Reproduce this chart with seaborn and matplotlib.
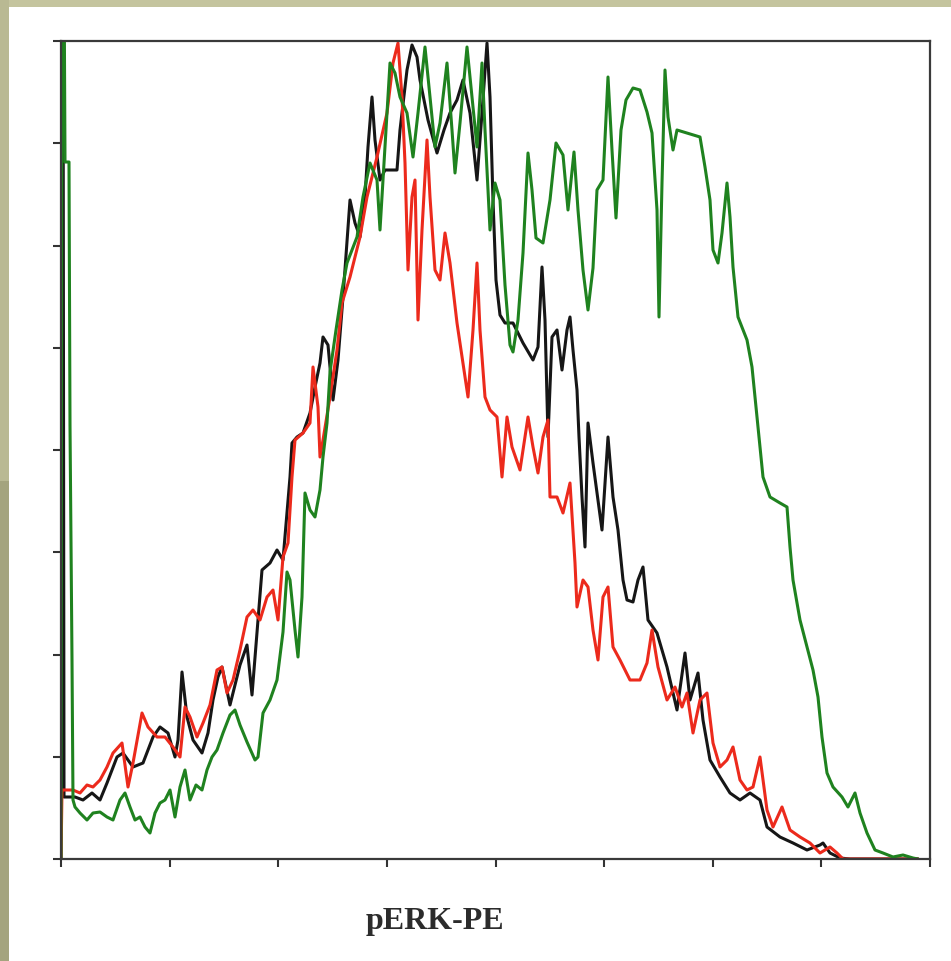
import numpy as np
import pandas as pd
import matplotlib
matplotlib.use("Agg")
import matplotlib.pyplot as plt
from matplotlib.patches import Rectangle
import seaborn as sns

# pERK-PE fluorescence histograms (channel vs. event count)
ch_green = [0, 1, 3, 4, 8, 9, 11, 12, 14, 19, 26, 32, 39, 46, 52, 59, 64, 69, 74, 79,
            84, 89, 94, 99, 104, 109, 114, 119, 124, 129, 135, 141, 146, 151, 156, 162,
            169, 174, 179, 186, 194, 197, 202, 209, 216, 222, 226, 229, 234, 237, 241,
            244, 249, 254, 259, 262, 266, 269, 275, 281, 286, 296, 302, 309, 316, 319,
            324, 329, 334, 339, 346, 352, 357, 364, 369, 374, 379, 386, 391, 394, 399,
            406, 411, 416, 421, 424, 429, 434, 439, 444, 449, 452, 457, 462, 467, 471,
            475, 482, 489, 495, 502, 507, 513, 517, 522, 527, 532, 536, 542, 547, 551,
            555, 560, 565, 572, 579, 586, 591, 596, 598, 601, 604, 607, 612, 616, 626,
            639, 644, 649, 652, 657, 661, 666, 669, 672, 677, 686, 691, 696, 702, 709,
            719, 726, 729, 732, 739, 746, 752, 757, 761, 766, 772, 781, 787, 794, 799,
            806, 814, 822, 832, 842, 852, 857]
n_green = [0, 900, 900, 697, 697, 434, 199, 59, 52, 46, 39, 46, 47, 42, 39, 59, 66, 52, 39, 42,
           32, 26, 46, 56, 59, 69, 42, 72, 89, 59, 74, 69, 89, 102, 109, 126,
           144, 149, 134, 117, 99, 102, 146, 159, 179, 227, 287, 279, 229, 202, 262,
           366, 349, 342, 369, 402, 436, 487, 529, 569, 596, 622, 662, 696, 679, 629,
           712, 796, 786, 762, 746, 702, 746, 812, 762, 712, 736, 796, 729, 686, 736,
           812, 762, 712, 796, 729, 629, 676, 659, 574, 514, 507, 539, 606, 706, 669,
           621, 616, 659, 716, 704, 649, 707, 649, 589, 549, 591, 669, 679, 782, 709,
           641, 729, 759, 771, 769, 747, 726, 649, 542, 676, 789, 742, 709, 729, 726,
           722, 692, 659, 609, 596, 626, 676, 642, 592, 542, 519, 492, 442, 382, 362,
           356, 352, 312, 279, 239, 212, 189, 162, 122, 86, 72, 62, 52, 66, 46,
           26, 9, 6, 2, 4, 1, 0]

ch_black = [0, 1, 2, 3, 14, 22, 31, 39, 46, 56, 62, 72, 82, 92, 99, 107, 114, 117, 121,
            126, 132, 141, 147, 152, 157, 161, 169, 179, 186, 191, 196, 201, 209, 216,
            222, 226, 229, 231, 236, 242, 249, 254, 259, 262, 267, 272, 277, 282, 289,
            294, 299, 304, 307, 311, 314, 319, 324, 336, 339, 346, 351, 356, 359, 367,
            376, 383, 389, 396, 402, 409, 416, 421, 426, 429, 432, 435, 439, 444, 452,
            462, 472, 477, 481, 484, 487, 491, 496, 501, 506, 509, 512, 516, 518, 521,
            524, 527, 532, 541, 547, 552, 557, 562, 566, 572, 577, 582, 587, 596, 606,
            616, 624, 629, 637, 642, 649, 659, 669, 679, 689, 699, 706, 719, 732, 746,
            759, 762, 769, 779, 789, 857]
n_black = [0, 900, 900, 62, 62, 59, 66, 59, 76, 102, 106, 92, 96, 122, 132, 126, 102, 119, 187,
           142, 119, 106, 126, 159, 182, 192, 154, 194, 214, 164, 227, 289, 296, 309,
           299, 346, 382, 416, 422, 426, 446, 472, 496, 522, 514, 459, 499, 562, 659,
           636, 622, 662, 712, 762, 719, 679, 689, 689, 729, 789, 814, 802, 779, 739,
           706, 729, 746, 759, 779, 746, 679, 746, 816, 762, 659, 579, 544, 536, 536,
           516, 499, 512, 592, 539, 422, 522, 529, 489, 529, 542, 509, 469, 422, 362,
           312, 436, 396, 329, 422, 362, 329, 279, 259, 257, 279, 292, 239, 226, 192,
           149, 206, 159, 186, 139, 99, 82, 66, 59, 66, 59, 32, 22, 16, 9,
           14, 16, 6, 1, 0, 0]

ch_red = [0, 1, 12, 19, 26, 32, 39, 46, 52, 61, 67, 72, 81, 87, 96, 104, 112, 119, 124,
          129, 136, 142, 149, 156, 161, 166, 172, 179, 186, 192, 199, 206, 212, 217, 222,
          227, 231, 234, 242, 249, 252, 257, 259, 262, 269, 276, 281, 289, 299, 306,
          316, 326, 332, 337, 341, 344, 347, 351, 354, 357, 361, 366, 369, 374, 379,
          384, 389, 396, 402, 407, 412, 416, 419, 424, 429, 436, 441, 446, 451, 459,
          467, 472, 477, 482, 487, 489, 496, 502, 509, 514, 516, 522, 527, 532, 537,
          542, 547, 552, 559, 569, 579, 586, 591, 597, 606, 614, 621, 626, 632, 639,
          646, 652, 659, 666, 672, 679, 686, 692, 699, 706, 712, 721, 729, 739, 749,
          759, 769, 776, 782, 857]
n_red = [0, 69, 69, 66, 74, 72, 79, 92, 106, 116, 72, 96, 146, 132, 122, 122, 112, 102, 152,
         142, 122, 136, 154, 189, 192, 166, 179, 209, 242, 249, 239, 262, 269, 239, 302,
         316, 382, 419, 426, 436, 492, 452, 402, 419, 462, 509, 556, 582, 622, 662,
         702, 746, 796, 816, 762, 696, 589, 662, 679, 539, 629, 719, 662, 589, 579,
         626, 596, 536, 496, 462, 529, 596, 529, 462, 449, 442, 382, 442, 412, 389,
         442, 412, 386, 422, 439, 362, 362, 346, 376, 296, 252, 279, 272, 229, 199,
         262, 272, 212, 199, 179, 179, 196, 229, 192, 159, 172, 152, 166, 126, 159,
         166, 116, 92, 99, 112, 79, 69, 72, 102, 49, 32, 52, 29, 22, 16,
         6, 12, 6, 0, 0]

ch_max = 869
count_max = 818

sns.set_style("white")
fig = plt.figure(figsize=(9.51, 9.61), dpi=100)

# khaki slide border with a white card behind the plot
fig.patch.set_facecolor("#c4c49e")
card = [
    Rectangle((0, 0.50), 0.009, 0.50, facecolor="#b9b993"),
    Rectangle((0, 0.0), 0.009, 0.50, facecolor="#a4a47e"),
    Rectangle((0.009, 0.0), 0.991, 0.993, facecolor="white"),
]
for r in card:
    r.set_transform(fig.transFigure)
    r.set_edgecolor("none")
    r.set_zorder(-5)
    fig.patches.append(r)

ax = fig.add_axes([61 / 951, 1 - 859 / 961, 869 / 951, 818 / 961])
ax.set_zorder(1)
ax.set_facecolor("white")

sns.lineplot(x=ch_black, y=n_black, ax=ax, color="#161616", lw=2.2,
             sort=False, estimator=None)
sns.lineplot(x=ch_red, y=n_red, ax=ax, color="#ec2a1c", lw=2.2,
             sort=False, estimator=None)
sns.lineplot(x=ch_green, y=n_green, ax=ax, color="#1f821f", lw=2.2,
             sort=False, estimator=None)

ax.set_xlim(0, ch_max)
ax.set_ylim(0, count_max)
ax.set_xticks(np.linspace(0, ch_max, 9))
ax.set_yticks(np.linspace(0, count_max, 9))
ax.set_xticklabels([])
ax.set_yticklabels([])
ax.tick_params(axis="both", direction="out", length=6, width=1.5,
               color="#333333", bottom=True, left=True)
ax.set_xlabel("")
ax.set_ylabel("")
for s in ax.spines.values():
    s.set_visible(True)
    s.set_color("#3a3a3a")
    s.set_linewidth(1.6)

fig.text(435 / 951, 1 - 922 / 961, "pERK-PE", ha="center", va="center",
         fontsize=23, fontweight="bold", color="#2c2c2c",
         family=["Liberation Serif", "DejaVu Serif"])

fig.savefig("out.png", dpi=100)
